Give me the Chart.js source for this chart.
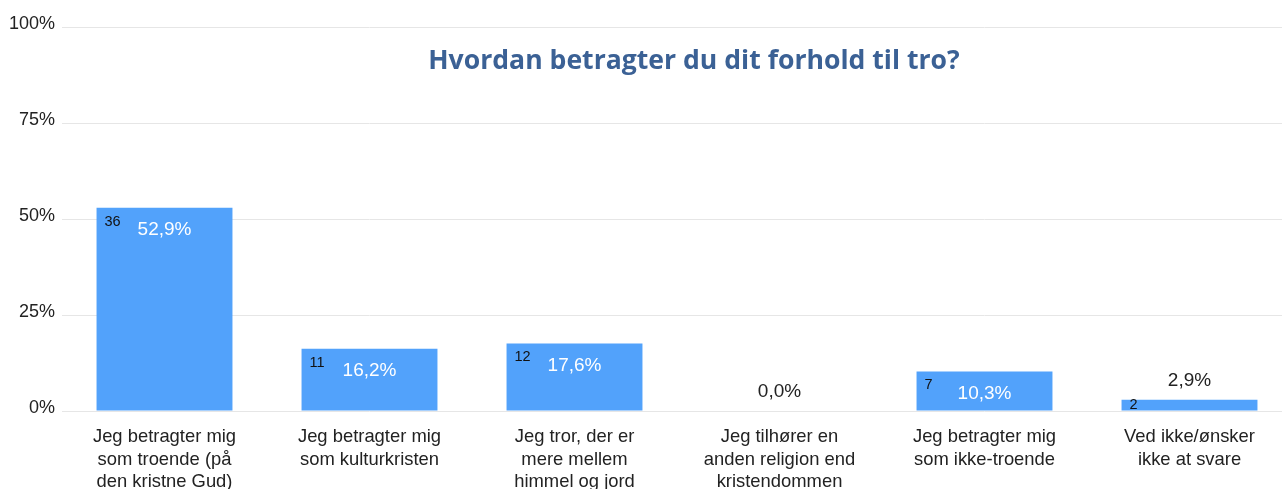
<!DOCTYPE html>
<html>
<head>
<meta charset="utf-8">
<script src="https://cdn.jsdelivr.net/npm/chart.js@4.4.0/dist/chart.umd.min.js"></script>
<style>
html,body{margin:0;padding:0;overflow:hidden;background:#fff;width:1282px;height:489px;}
#wrap{position:absolute;left:0;top:0;width:1292px;height:489px;}
</style>
</head>
<body>
<div id="wrap"><canvas id="c" width="1292" height="489"></canvas></div>
<script>
const titleText = 'Hvordan betragter du dit forhold til tro?';
const categories = [
  ['Jeg betragter mig','som troende (på','den kristne Gud)'],
  ['Jeg betragter mig','som kulturkristen'],
  ['Jeg tror, der er','mere mellem','himmel og jord'],
  ['Jeg tilhører en','anden religion end','kristendommen'],
  ['Jeg betragter mig','som ikke-troende'],
  ['Ved ikke/ønsker','ikke at svare']
];
const percentValues = [52.9, 16.2, 17.6, 0.0, 10.3, 2.9];
const countValues = [36, 11, 12, 0, 7, 2];
const yTicks = [0, 25, 50, 75, 100];

const labelPlugin = {
  id: 'labels',
  afterDatasetsDraw(chart) {
    const ctx = chart.ctx;
    const meta = chart.getDatasetMeta(0);
    ctx.save();
    meta.data.forEach((bar, i) => {
      const v = percentValues[i];
      const txt = v.toFixed(1).replace('.', ',') + '%';
      const left = bar.x - bar.width / 2;
      ctx.textAlign = 'center';
      ctx.textBaseline = 'middle';
      ctx.font = '19px "Liberation Sans", Arial, sans-serif';
      if (v > 5) {
        ctx.fillStyle = '#ffffff';
        ctx.fillText(txt, bar.x, bar.y + 22);
      } else {
        ctx.fillStyle = '#222222';
        ctx.fillText(txt, bar.x, bar.y - 19);
      }
      if (countValues[i] > 0) {
        ctx.font = '14.5px "Liberation Sans", Arial, sans-serif';
        ctx.fillStyle = '#111111';
        ctx.textAlign = 'left';
        const cy = (bar.base - bar.y) > 20 ? bar.y + 14 : bar.y + 5;
        ctx.fillText(String(countValues[i]), left + 8, cy);
      }
    });
    ctx.restore();
  }
};

const titlePlugin = {
  id: 'innerTitle',
  afterDraw(chart) {
    const ctx = chart.ctx;
    ctx.save();
    ctx.font = 'bold 26.6px "Open Sans", sans-serif';
    ctx.fillStyle = '#3b6195';
    ctx.textAlign = 'center';
    ctx.textBaseline = 'middle';
    ctx.fillText(titleText, 694, 61);
    ctx.restore();
  }
};

new Chart(document.getElementById('c'), {
  type: 'bar',
  data: {
    labels: categories,
    datasets: [{
      data: percentValues,
      backgroundColor: '#52a2fb',
      borderWidth: 0,
      barPercentage: 0.663,
      categoryPercentage: 1.0
    }]
  },
  options: {
    responsive: false,
    animation: false,
    events: [],
    layout: { padding: { top: 27, right: 0, bottom: 0, left: 0 } },
    plugins: { legend: { display: false }, tooltip: { enabled: false }, title: { display: false } },
    scales: {
      x: {
        grid: { display: false, drawTicks: false },
        border: { display: false },
        ticks: {
          color: '#222222',
          font: { family: '"Liberation Sans", Arial, sans-serif', size: 18.4, lineHeight: 1.22 },
          padding: 15,
          maxRotation: 0,
          autoSkip: false
        },
        afterFit(scale) { scale.height = 78; }
      },
      y: {
        min: 0, max: 100,
        afterBuildTicks(scale) { scale.ticks = yTicks.map(v => ({ value: v })); },
        grid: { color: '#e6e6e6', drawTicks: false },
        border: { display: false },
        ticks: {
          color: '#222222',
          font: { family: '"Liberation Sans", Arial, sans-serif', size: 18 },
          padding: 7,
          labelOffset: -3,
          callback: v => v + '%'
        },
        afterFit(scale) { scale.width = 62; }
      }
    }
  },
  plugins: [labelPlugin, titlePlugin]
});
</script>
</body>
</html>
